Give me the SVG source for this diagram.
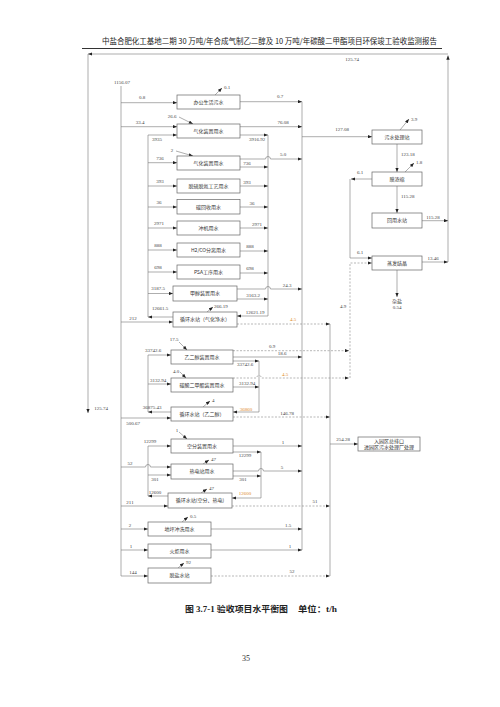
<svg xmlns="http://www.w3.org/2000/svg" width="500" height="707" viewBox="0 0 500 707">
<defs>
<marker id="a" viewBox="0 0 10 8" refX="10" refY="4" markerWidth="4.5" markerHeight="3.4" orient="auto" markerUnits="userSpaceOnUse"><path d="M0,0 L10,4 L0,8 z" fill="#222"/></marker>
</defs>
<style>
.ln{fill:none;stroke:#777;stroke-width:0.6}
.ds{fill:none;stroke:#888;stroke-width:0.6;stroke-dasharray:2 1.5}
.bx{fill:#fff;stroke:#666;stroke-width:0.7}
.t{font-family:"Noto Sans CJK SC","Noto Sans",sans-serif;font-size:5px;fill:#333;text-anchor:middle}
.n{font-family:"Liberation Serif",serif;font-size:5px;fill:#444;text-anchor:middle}
.s{text-anchor:start}
.o{fill:#e0892a}
.h{font-family:"Noto Sans CJK SC",sans-serif;fill:#222}
.c{font-family:"Liberation Serif","Noto Sans CJK SC",serif;font-size:8.5px;font-weight:bold;fill:#222}
</style>
<rect width="500" height="707" fill="#fff"/>
<g id="header">
<text class="h" x="102" y="44" font-size="7.5" textLength="335" lengthAdjust="spacingAndGlyphs">中盐合肥化工基地二期 30 万吨/年合成气制乙二醇及 10 万吨/年碳酸二甲酯项目环保竣工验收监测报告</text>
<line x1="82" y1="48.5" x2="442" y2="48.5" stroke="#333" stroke-width="1.2"/>
</g>
<g id="connectors">
<path class="ln" d="M448,262 V55.5" marker-end="url(#a)"/>
<path class="ln" d="M448,54 H88" marker-end="url(#a)"/>
<path class="ln" d="M88,54 V413" marker-end="url(#a)"/>
<path class="ln" d="M422,220.7 H448" marker-end="url(#a)"/>
<path class="ln" d="M422,262 H448" marker-end="url(#a)"/>
<path class="ln" d="M121,86 V576"/>
<path class="ln" d="M121,576 H148" marker-end="url(#a)"/>
<path class="ln" d="M121,102.7 H177" marker-end="url(#a)"/>
<path class="ln" d="M121,126.7 H177" marker-end="url(#a)"/>
<path class="ln" d="M121,322 H173" marker-end="url(#a)"/>
<path class="ln" d="M121,418 H171" marker-end="url(#a)"/>
<path class="ln" d="M121,467 H145.5 A2.5,2.5 0 0 1 150.5,467 H171" marker-end="url(#a)"/>
<path class="ln" d="M121,506 H168" marker-end="url(#a)"/>
<path class="ln" d="M121,529 H148" marker-end="url(#a)"/>
<path class="ln" d="M121,550 H148" marker-end="url(#a)"/>
<path class="ln" d="M173,317 H148" marker-end="url(#a)"/>
<path class="ln" d="M148,135 V317"/>
<path class="ln" d="M148,135 H177" marker-end="url(#a)"/>
<path class="ln" d="M148,162.7 H177" marker-end="url(#a)"/>
<path class="ln" d="M148,186 H177" marker-end="url(#a)"/>
<path class="ln" d="M148,207 H177" marker-end="url(#a)"/>
<path class="ln" d="M148,228 H177" marker-end="url(#a)"/>
<path class="ln" d="M148,250 H177" marker-end="url(#a)"/>
<path class="ln" d="M148,272 H177" marker-end="url(#a)"/>
<path class="ln" d="M148,293.5 H173" marker-end="url(#a)"/>
<path class="ln" d="M171,412 H148" marker-end="url(#a)"/>
<path class="ln" d="M148,355 V412"/>
<path class="ln" d="M148,355 H171" marker-end="url(#a)"/>
<path class="ln" d="M148,384 H171" marker-end="url(#a)"/>
<path class="ln" d="M168,496 H148" marker-end="url(#a)"/>
<path class="ln" d="M148,446 V496"/>
<path class="ln" d="M148,446 H171" marker-end="url(#a)"/>
<path class="ln" d="M148,475 H171" marker-end="url(#a)"/>
<path class="ln" d="M240,101.7 H302" marker-end="url(#a)"/>
<path class="ln" d="M240,126.7 H302" marker-end="url(#a)"/>
<path class="ln" d="M240,135 H268" marker-end="url(#a)"/>
<path class="ln" d="M240,159 H265.5 A2.5,2.5 0 0 1 270.5,159 H302" marker-end="url(#a)"/>
<path class="ln" d="M240,167 H268" marker-end="url(#a)"/>
<path class="ln" d="M240,186 H268" marker-end="url(#a)"/>
<path class="ln" d="M240,207 H268" marker-end="url(#a)"/>
<path class="ln" d="M240,228 H268" marker-end="url(#a)"/>
<path class="ln" d="M240,251 H268" marker-end="url(#a)"/>
<path class="ln" d="M240,273 H268" marker-end="url(#a)"/>
<path class="ln" d="M237,299 H268" marker-end="url(#a)"/>
<path class="ln" d="M237,289 H265.5 A2.5,2.5 0 0 1 270.5,289 H302" marker-end="url(#a)"/>
<path class="ln" d="M268,135 V316 H237" marker-end="url(#a)"/>
<path class="ln" d="M302,101.7 V550"/>
<path class="ln" d="M302,136.7 H372" marker-end="url(#a)"/>
<path class="ln" d="M397,144 V172" marker-end="url(#a)"/>
<path class="ln" d="M397,186 V213" marker-end="url(#a)"/>
<path class="ln" d="M397,270 V297" marker-end="url(#a)"/>
<path class="ln" d="M372,179 H351" marker-end="url(#a)"/>
<path class="ln" d="M350,179 V258 H372" marker-end="url(#a)"/>
<path class="ds" d="M350,378 V263 H372" marker-end="url(#a)"/>
<path class="ds" d="M233,350.7 H349" marker-end="url(#a)"/>
<path class="ds" d="M233,378 H256.5 A2.5,2.5 0 0 1 261.5,378 H349" marker-end="url(#a)"/>
<path class="ln" d="M233,357 H302" marker-end="url(#a)"/>
<path class="ln" d="M233,361 H259" marker-end="url(#a)"/>
<path class="ln" d="M233,387 H259" marker-end="url(#a)"/>
<path class="ln" d="M259,361 V412 H233" marker-end="url(#a)"/>
<path class="ds" d="M237,324 H330" marker-end="url(#a)"/>
<path class="ds" d="M233,417 H330" marker-end="url(#a)"/>
<path class="ds" d="M232,506 H330" marker-end="url(#a)"/>
<path class="ds" d="M211,576 H330" marker-end="url(#a)"/>
<path class="ln" d="M330,324 V576"/>
<path class="ln" d="M330,444 H358" marker-end="url(#a)"/>
<path class="ln" d="M233,446 H302" marker-end="url(#a)"/>
<path class="ln" d="M233,452 H261" marker-end="url(#a)"/>
<path class="ln" d="M233,471 H258.5 A2.5,2.5 0 0 1 263.5,471 H302" marker-end="url(#a)"/>
<path class="ln" d="M233,476 H261" marker-end="url(#a)"/>
<path class="ln" d="M261,452 V498 H232" marker-end="url(#a)"/>
<path class="ln" d="M211,529 H302" marker-end="url(#a)"/>
<path class="ln" d="M211,550 H302" marker-end="url(#a)"/>
<path class="ln" d="M215,95 L222,88" marker-end="url(#a)"/>
<path class="ln" d="M179,117 L193,124" marker-end="url(#a)"/>
<path class="ln" d="M176,151 L193,156" marker-end="url(#a)"/>
<path class="ln" d="M207,312 L213,307" marker-end="url(#a)"/>
<path class="ln" d="M179,342 L187,350" marker-end="url(#a)"/>
<path class="ln" d="M180,372 L186,378" marker-end="url(#a)"/>
<path class="ln" d="M203,407 L210,401" marker-end="url(#a)"/>
<path class="ln" d="M179,432 L187,439" marker-end="url(#a)"/>
<path class="ln" d="M203,464 L209,460" marker-end="url(#a)"/>
<path class="ln" d="M201,493 L207,489" marker-end="url(#a)"/>
<path class="ln" d="M182,522 L188,517" marker-end="url(#a)"/>
<path class="ln" d="M178,568 L184,563" marker-end="url(#a)"/>
<path class="ln" d="M400,130 L409,119" marker-end="url(#a)"/>
<path class="ln" d="M405,172 L414,163" marker-end="url(#a)"/>
</g>
<g id="labels">
<text class="n" x="352" y="61">125.74</text>
<text class="n" x="122" y="84">1156.07</text>
<text class="n" x="142" y="99">0.8</text>
<text class="n" x="140" y="124">33.4</text>
<text class="n" x="133" y="320">212</text>
<text class="n" x="101" y="410">125.74</text>
<text class="n" x="133" y="425">500.67</text>
<text class="n" x="130" y="465">52</text>
<text class="n" x="130" y="504">211</text>
<text class="n" x="130" y="527">2</text>
<text class="n" x="131" y="548">1</text>
<text class="n" x="133" y="574">144</text>
<text class="n" x="157" y="141">3935</text>
<text class="n" x="160" y="160">736</text>
<text class="n" x="160" y="183">393</text>
<text class="n" x="159" y="204">36</text>
<text class="n" x="159" y="225">2971</text>
<text class="n" x="158" y="247">888</text>
<text class="n" x="158" y="269">698</text>
<text class="n" x="158" y="290">3187.5</text>
<text class="n" x="160" y="310">12661.5</text>
<text class="n" x="153" y="352">33742.6</text>
<text class="n" x="158" y="382">3132.94</text>
<text class="n" x="152" y="409">36875.43</text>
<text class="n" x="150" y="443">12299</text>
<text class="n" x="155" y="481">301</text>
<text class="n" x="155" y="494">12600</text>
<text class="n s" x="224" y="89">0.1</text>
<text class="n" x="172" y="118">26.6</text>
<text class="n" x="172" y="152">2</text>
<text class="n s" x="214" y="308">266.19</text>
<text class="n" x="174" y="341">17.5</text>
<text class="n" x="176" y="373">4.0</text>
<text class="n s" x="212" y="402">4</text>
<text class="n" x="177" y="432">1</text>
<text class="n s" x="211" y="461">47</text>
<text class="n s" x="209" y="490">47</text>
<text class="n s" x="190" y="518">0.5</text>
<text class="n s" x="186" y="564">92</text>
<text class="n s" x="411" y="121">3.9</text>
<text class="n s" x="416" y="164">1.8</text>
<text class="n" x="280" y="98">0.7</text>
<text class="n" x="283" y="124">76.08</text>
<text class="n" x="257" y="141">3916.92</text>
<text class="n" x="283" y="156">5.0</text>
<text class="n" x="247" y="165">736</text>
<text class="n" x="247" y="184">393</text>
<text class="n" x="252" y="205">36</text>
<text class="n" x="257" y="226">2971</text>
<text class="n" x="250" y="248">888</text>
<text class="n" x="250" y="270">698</text>
<text class="n" x="287" y="287">24.3</text>
<text class="n" x="253" y="297">3163.2</text>
<text class="n" x="255" y="314">12621.19</text>
<text class="n o" x="293" y="321">4.5</text>
<text class="n" x="342" y="131">127.08</text>
<text class="n s" x="401" y="156">123.18</text>
<text class="n" x="360" y="174">6.1</text>
<text class="n s" x="401" y="198">115.28</text>
<text class="n" x="433" y="219">115.28</text>
<text class="n" x="360" y="254">6.1</text>
<text class="n" x="433" y="260">13.46</text>
<text class="t" x="397" y="303">杂盐</text>
<text class="n" x="397" y="309">0.54</text>
<text class="n" x="343" y="308">4.9</text>
<text class="n" x="272" y="348">0.9</text>
<text class="n" x="282" y="355">18.6</text>
<text class="n" x="245" y="366">33742.6</text>
<text class="n o" x="285" y="376">4.5</text>
<text class="n" x="247" y="385">3132.94</text>
<text class="n o" x="246" y="411">36860</text>
<text class="n" x="287" y="415">146.78</text>
<text class="n" x="343" y="441">254.28</text>
<text class="n" x="283" y="444">1</text>
<text class="n" x="245" y="457">12299</text>
<text class="n" x="282" y="469">5</text>
<text class="n" x="243" y="481">301</text>
<text class="n o" x="245" y="495">12600</text>
<text class="n" x="315" y="503">51</text>
<text class="n" x="288" y="527">1.5</text>
<text class="n" x="290" y="548">1</text>
<text class="n" x="292" y="573">52</text>
</g>
<g id="n1"><rect class="bx" x="177" y="95" width="63" height="14"/><text class="t" x="208.5" y="103.8">办公生活污水</text></g>
<g id="n2"><rect class="bx" x="177" y="124" width="63" height="14"/><text class="t" x="208.5" y="132.8">气化装置用水</text></g>
<g id="n3"><rect class="bx" x="177" y="156" width="63" height="14"/><text class="t" x="208.5" y="164.8">气化装置用水</text></g>
<g id="n4"><rect class="bx" x="177" y="179" width="63" height="14"/><text class="t" x="208.5" y="187.8">脱硫脱氮工艺用水</text></g>
<g id="n5"><rect class="bx" x="177" y="199.5" width="63" height="14.5"/><text class="t" x="208.5" y="208.5">碳回收用水</text></g>
<g id="n6"><rect class="bx" x="177" y="221" width="63" height="14"/><text class="t" x="208.5" y="229.8">冲机用水</text></g>
<g id="n7"><rect class="bx" x="177" y="243" width="63" height="14"/><text class="t" x="208.5" y="251.8">H2/CO分离用水</text></g>
<g id="n8"><rect class="bx" x="177" y="265" width="63" height="14"/><text class="t" x="208.5" y="273.8">PSA工序用水</text></g>
<g id="n9"><rect class="bx" x="173" y="286" width="64" height="15"/><text class="t" x="205" y="295.3">甲醇装置用水</text></g>
<g id="n10"><rect class="bx" x="173" y="312" width="64" height="15"/><text class="t" x="205" y="321.3">循环水站（气化净水）</text></g>
<g id="n11"><rect class="bx" x="171" y="350" width="62" height="14"/><text class="t" x="202" y="358.8">乙二醇装置用水</text></g>
<g id="n12"><rect class="bx" x="171" y="378" width="62" height="14"/><text class="t" x="202" y="386.8">碳酸二甲酯装置用水</text></g>
<g id="n13"><rect class="bx" x="171" y="407" width="62" height="14"/><text class="t" x="202" y="415.8">循环水站（乙二醇）</text></g>
<g id="n14"><rect class="bx" x="171" y="439" width="62" height="14"/><text class="t" x="202" y="447.8">空分装置用水</text></g>
<g id="n15"><rect class="bx" x="171" y="464" width="62" height="15"/><text class="t" x="202" y="473.3">热电站用水</text></g>
<g id="n16"><rect class="bx" x="168" y="493" width="64" height="15"/><text class="t" x="200" y="502.3">循环水站(空分、热电)</text></g>
<g id="n17"><rect class="bx" x="148" y="522" width="63" height="14"/><text class="t" x="179.5" y="530.8">地坪冲洗用水</text></g>
<g id="n18"><rect class="bx" x="148" y="544" width="63" height="14"/><text class="t" x="179.5" y="552.8">火炬用水</text></g>
<g id="n19"><rect class="bx" x="148" y="568" width="63" height="15"/><text class="t" x="179.5" y="577.3">脱盐水站</text></g>
<g id="n20"><rect class="bx" x="372" y="130" width="50" height="14"/><text class="t" x="397" y="138.8">污水处理站</text></g>
<g id="n21"><rect class="bx" x="372" y="172" width="50" height="14"/><text class="t" x="397" y="180.8">膜浓缩</text></g>
<g id="n22"><rect class="bx" x="372" y="213" width="50" height="15"/><text class="t" x="397" y="222.3">回用水站</text></g>
<g id="n23"><rect class="bx" x="372" y="256" width="50" height="14"/><text class="t" x="397" y="264.8">蒸发结晶</text></g>
<g id="n24"><rect class="bx" x="358" y="437" width="62" height="14"/><text class="t" x="389" y="443">入园区总排口</text><text class="t" x="389" y="449">进园区污水处理厂处理</text></g>
<g id="caption">
<text class="c" x="185" y="612" textLength="103" lengthAdjust="spacingAndGlyphs">图 3.7-1  验收项目水平衡图</text>
<text class="c" x="298" y="612" textLength="39" lengthAdjust="spacingAndGlyphs">单位：t/h</text>
<text x="246" y="661" font-family="'Liberation Serif',serif" font-size="8" fill="#333" text-anchor="middle">35</text>
</g>
</svg>
